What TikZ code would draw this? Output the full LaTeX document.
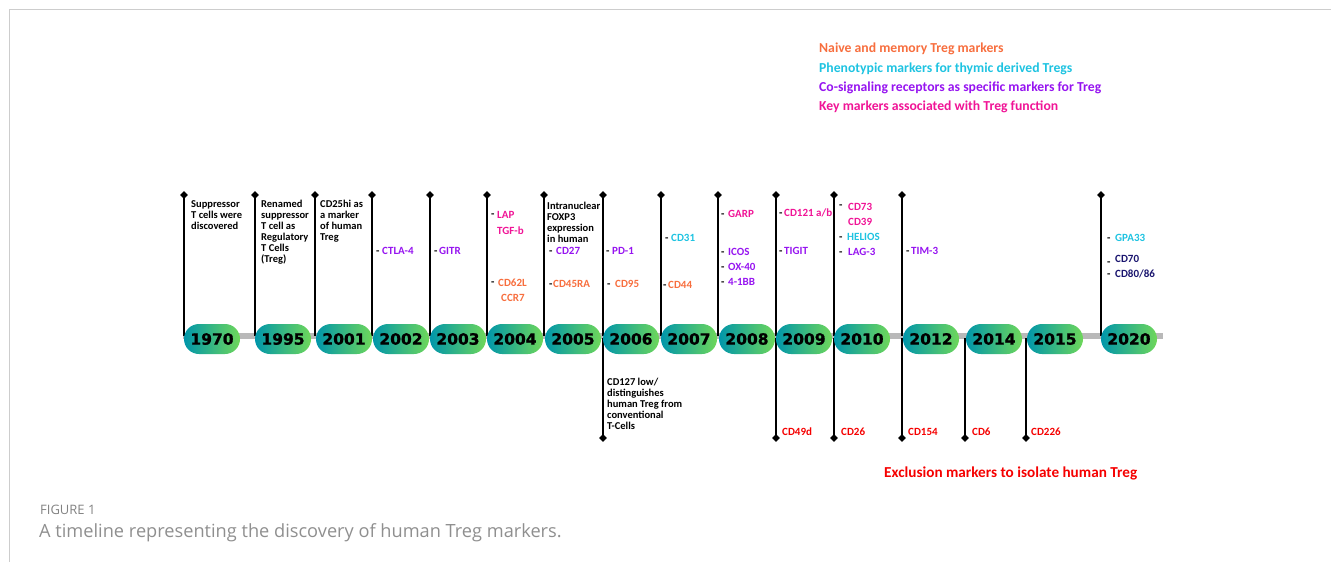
\documentclass[tikz,border=0pt]{standalone}
\usepackage{fontspec}
\setmainfont{Carlito}
\newfontfamily\yearfont[BoldFeatures={FakeBold=1.2}]{DejaVu Sans}
\newfontfamily\capfont{Open Sans}
\usetikzlibrary{shapes.geometric}
\definecolor{orng}{RGB}{247,110,62}
\definecolor{cyn}{RGB}{30,195,225}
\definecolor{purp}{RGB}{150,20,240}
\definecolor{pnk}{RGB}{240,20,150}
\definecolor{rd}{RGB}{245,0,0}
\definecolor{nvy}{RGB}{25,20,110}
\definecolor{tealA}{RGB}{0,150,170}
\definecolor{greenA}{RGB}{110,215,90}
\definecolor{barg}{RGB}{185,185,185}
\definecolor{capg}{RGB}{130,130,130}
\definecolor{frameg}{RGB}{205,205,205}
\begin{document}
\begin{tikzpicture}[x=1pt,y=-1pt,
  lbl/.style={font=\fontsize{11}{11}\selectfont\bfseries, inner sep=0pt, anchor=base west},
  dsh/.style={lbl, text=black},
  blk/.style={font=\fontsize{10.5}{11}\selectfont\bfseries, inner sep=0pt, anchor=north west, align=left},
  leg/.style={font=\fontsize{13.7}{14}\selectfont\bfseries, inner sep=0pt, anchor=base west},
  pill/.style={rounded corners=15pt, minimum width=56pt, minimum height=30pt, inner sep=0pt,
     left color=tealA, right color=greenA, text=black,
     font=\yearfont\fontsize{15.5}{16}\selectfont\bfseries},
  dia/.style={diamond, fill=black, inner sep=0pt, minimum size=8pt},
  stem/.style={line width=2pt, black}]
\useasboundingbox (0,0) rectangle (1331,562);
% frame
\draw[frameg, line width=1pt] (9,562) -- (9,9) -- (1331,9);
% legend
\node[leg, text=orng] (leg1) at (819,52.5) {Naive and memory Treg markers};
\node[leg, text=cyn] (leg2) at (819,72.5) {Phenotypic markers for thymic derived Tregs};
\node[leg, text=purp] (leg3) at (819,91.5) {Co-signaling receptors as specific markers for Treg};
\node[leg, text=pnk] (leg4) at (819,110.5) {Key markers associated with Treg function};
% bar
\coordinate (barL) at (183,336);
\coordinate (barR) at (1163,336);
\draw[barg, line width=6pt] (barL) -- (barR);
% top stems
\foreach \yr/\sx in {1970/184,1995/255,2001/315,2002/372,2003/430,2004/487,2005/544,2006/603,2007/661,2008/718,2009/776,2010/834,2012/902,2020/1101}{
  \node[dia] (t\yr) at (\sx,195) {};
  \coordinate (bt\yr) at (\sx,336);
  \draw[stem] (t\yr.center) -- (bt\yr);
}
% bottom stems
\foreach \yr/\sx in {2006/603,2009/776,2010/834,2012/902,2014/965,2015/1026}{
  \node[dia] (d\yr) at (\sx,438) {};
  \coordinate (bb\yr) at (\sx,338);
  \draw[stem] (bb\yr) -- (d\yr.center);
}
% pills
\foreach \yr/\cx in {1970/212,1995/283,2001/344,2002/401,2003/458,2004/515,2005/573,2006/631,2007/689,2008/747,2009/804,2010/862,2012/931,2014/994,2015/1055,2020/1129}{
  \node[pill] (p\yr) at (\cx,339) {\yr};
}
% black descriptive texts
\node[blk] (x1970) at (191,200) {Suppressor\\T cells were\\discovered};
\node[blk] (x1995) at (261,200) {Renamed\\suppressor\\T cell as\\Regulatory\\T Cells\\(Treg)};
\node[blk] (x2001) at (320,200) {CD25hi as\\a marker\\of human\\Treg};
\node[blk] (x2005) at (547,202) {Intranuclear\\FOXP3\\expression\\in human};
\node[blk] (x2006b) at (607,378) {CD127 low/\\distinguishes\\human Treg from\\conventional\\T-Cells};
% 2002
\node[dsh] at (376,254.5) {-};
\node[lbl, text=purp] (m2002a) at (382,254.5) {CTLA-4};
% 2003
\node[dsh] at (434,254.5) {-};
\node[lbl, text=purp] (m2003a) at (439,254.5) {GITR};
% 2004
\node[dsh] at (491,217.5) {-};
\node[lbl, text=pnk] (m2004a) at (497,218.5) {LAP};
\node[lbl, text=pnk] (m2004b) at (497,234.5) {TGF-b};
\node[dsh] at (491,285.5) {-};
\node[lbl, text=orng] (m2004c) at (498,286.5) {CD62L};
\node[lbl, text=orng] (m2004d) at (501,301.5) {CCR7};
% 2005
\node[dsh] at (549,254.5) {-};
\node[lbl, text=purp] (m2005a) at (556,254.5) {CD27};
\node[dsh] at (549,287.5) {-};
\node[lbl, text=orng] (m2005b) at (553,287.5) {CD45RA};
% 2006
\node[dsh] at (606,254.5) {-};
\node[lbl, text=purp] (m2006a) at (612,254.5) {PD-1};
\node[dsh] at (607,287.5) {-};
\node[lbl, text=orng] (m2006b) at (615,287.5) {CD95};
% 2007
\node[dsh] at (665,241.5) {-};
\node[lbl, text=cyn] (m2007a) at (671,241.5) {CD31};
\node[dsh] at (663,288.5) {-};
\node[lbl, text=orng] (m2007b) at (668,288.5) {CD44};
% 2008
\node[dsh] at (721,217.5) {-};
\node[lbl, text=pnk] (m2008a) at (728,217.5) {GARP};
\node[dsh] at (721,255.5) {-};
\node[lbl, text=purp] (m2008b) at (728,255.5) {ICOS};
\node[dsh] at (721,270.5) {-};
\node[lbl, text=purp] (m2008c) at (728,270.5) {OX-40};
\node[dsh] at (721,285.5) {-};
\node[lbl, text=purp] (m2008d) at (728,285.5) {4-1BB};
% 2009
\node[dsh] at (779,216.5) {-};
\node[lbl, text=pnk] (m2009a) at (784,216.5) {CD121 a/b};
\node[dsh] at (779,254.5) {-};
\node[lbl, text=purp] (m2009b) at (784,254.5) {TIGIT};
% 2010
\node[dsh] at (839,208.5) {-};
\node[lbl, text=pnk] (m2010a) at (848,210.5) {CD73};
\node[lbl, text=pnk] (m2010b) at (848,225.5) {CD39};
\node[dsh] at (839,240.5) {-};
\node[lbl, text=cyn] (m2010c) at (847,240.5) {HELIOS};
\node[dsh] at (839,255.5) {-};
\node[lbl, text=purp] (m2010d) at (848,255.5) {LAG-3};
% 2012
\node[dsh] at (906,254.5) {-};
\node[lbl, text=purp] (m2012a) at (911,254.5) {TIM-3};
% 2020
\node[dsh] at (1107,241.5) {-};
\node[lbl, text=cyn] (m2020a) at (1115,241.5) {GPA33};
\node[dsh] at (1107,265.5) {-};
\node[lbl, text=nvy] (m2020b) at (1115,262.5) {CD70};
\node[dsh] at (1107,277.5) {-};
\node[lbl, text=nvy] (m2020c) at (1115,277.5) {CD80/86};
% exclusion markers
\node[lbl, text=rd] (e2009) at (782,435.5) {CD49d};
\node[lbl, text=rd] (e2010) at (841,435.5) {CD26};
\node[lbl, text=rd] (e2012) at (908,435.5) {CD154};
\node[lbl, text=rd] (e2014) at (972,435.5) {CD6};
\node[lbl, text=rd] (e2015) at (1031,435.5) {CD226};
\node[font=\fontsize{15.2}{16}\selectfont\bfseries, text=rd, inner sep=0pt, anchor=base west] (excl) at (884,477) {Exclusion markers to isolate human Treg};
% caption
\node[font=\capfont\fontsize{13}{14}\selectfont, text=capg, inner sep=0pt, anchor=base west] (fig) at (40,514) {FIGURE 1};
\node[font=\capfont\fontsize{18.2}{19}\selectfont, text=capg!90, inner sep=0pt, anchor=base west] (cap) at (39,537.5) {A timeline representing the discovery of human Treg markers.};
\end{tikzpicture}
\end{document}
